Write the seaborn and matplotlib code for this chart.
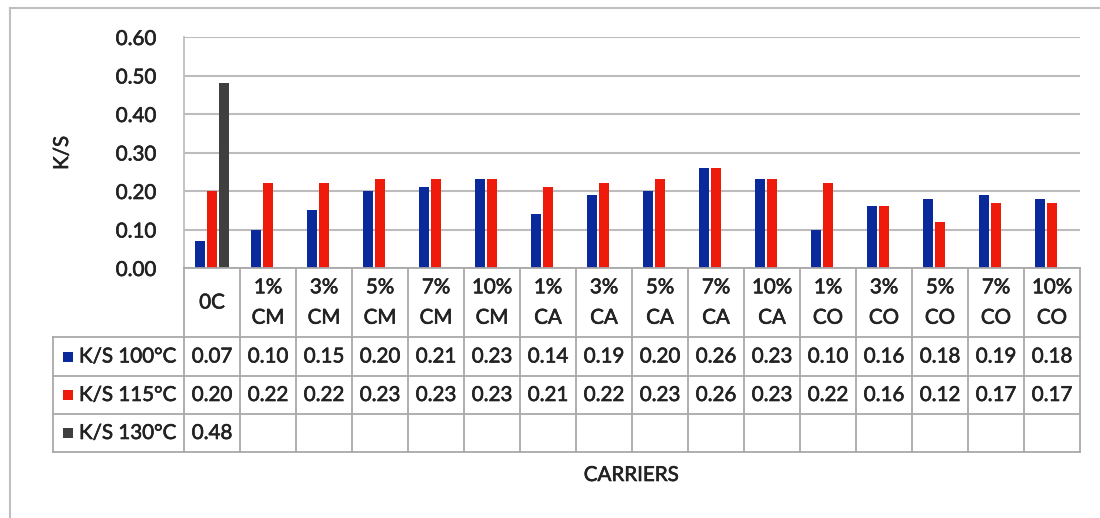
import numpy as np
import pandas as pd
import seaborn as sns
import matplotlib
matplotlib.use("Agg")
import matplotlib.pyplot as plt
import matplotlib.patheffects as pe
from matplotlib.lines import Line2D
from matplotlib.patches import Rectangle
from matplotlib.transforms import blended_transform_factory

# ---- data ----
categories = ["0C", "1%\nCM", "3%\nCM", "5%\nCM", "7%\nCM", "10%\nCM",
              "1%\nCA", "3%\nCA", "5%\nCA", "7%\nCA", "10%\nCA",
              "1%\nCO", "3%\nCO", "5%\nCO", "7%\nCO", "10%\nCO"]
series_names = ["K/S 100°C", "K/S 115°C", "K/S 130°C"]
ks_100 = [0.07, 0.10, 0.15, 0.20, 0.21, 0.23, 0.14, 0.19, 0.20, 0.26, 0.23,
          0.10, 0.16, 0.18, 0.19, 0.18]
ks_115 = [0.20, 0.22, 0.22, 0.23, 0.23, 0.23, 0.21, 0.22, 0.23, 0.26, 0.23,
          0.22, 0.16, 0.12, 0.17, 0.17]
ks_130 = [0.48] + [np.nan] * 15
yticks = [0.0, 0.1, 0.2, 0.3, 0.4, 0.5, 0.6]

colors = ["#0A2A9C", "#F01A0A", "#3F3F3F"]

df = pd.DataFrame({
    "carrier": categories * 3,
    "series": np.repeat(series_names, len(categories)),
    "value": ks_100 + ks_115 + ks_130,
})

W, H = 1100, 518
FONT = "Lato"
FS = 14.8
TXT = "#222222"
# slightly heavier glyph strokes
THICK = [pe.withStroke(linewidth=0.45, foreground=TXT)]
tkw = dict(fontsize=FS, family=FONT, color=TXT, path_effects=THICK)

fig = plt.figure(figsize=(W / 100, H / 100), dpi=100)
fig.patch.set_facecolor("white")

def fx(px):
    return px / W

def fy(py):
    return 1 - py / H

ax = fig.add_axes([fx(184), fy(268), fx(1080) - fx(184), fy(37) - fy(268)])

sns.barplot(data=df, x="carrier", y="value", hue="series", order=categories,
            hue_order=series_names, palette=colors, width=0.66, gap=0.18,
            errorbar=None, legend=False, saturation=1, ax=ax, zorder=3)

ax.set_xlim(-0.5, len(categories) - 0.5)
ax.set_ylim(0, 0.6)
ax.set_yticks(yticks)
ax.set_yticklabels([f"{v:.2f}" for v in yticks], **tkw)
ax.tick_params(axis="y", length=0, pad=20)
ax.tick_params(axis="x", length=0, labelbottom=False)
ax.set_xlabel("")
ax.set_ylabel("")
for s in ["top", "right", "bottom"]:
    ax.spines[s].set_visible(False)
ax.spines["left"].set_color("#BFBFBF")
ax.spines["left"].set_linewidth(1.3)
ax.yaxis.grid(True, color="#BCBCBC", linewidth=1.5, zorder=0)
ax.set_axisbelow(True)

# axis titles
fig.text(fx(62), fy(153), "K/S", rotation=90, ha="center", va="center", **tkw)
fig.text(fx(631), fy(475), "CARRIERS", ha="center", va="center", **tkw)

# ---- data table below the axis ----
tcol = "#A9A9A9"
lw = 1.3
trans = blended_transform_factory(ax.transData, fig.transFigure)
n = len(categories)
y_axis, y_r1, y_r2, y_r3, y_bot = 268, 337, 376, 414, 452

def hline(x0, x1, y, transform=fig.transFigure):
    fig.add_artist(Line2D([x0, x1], [fy(y), fy(y)], color=tcol, lw=lw,
                          transform=transform))

# horizontal rules
fig.add_artist(Line2D([-0.5, n - 0.5], [fy(y_axis)] * 2, color=tcol, lw=lw,
                      transform=trans))
for y in (y_r1, y_r2, y_r3, y_bot):
    hline(fx(53), fx(1080), y)

# vertical rules between categories
for i in range(n + 1):
    x = i - 0.5
    fig.add_artist(Line2D([x, x], [fy(y_axis), fy(y_bot)], color=tcol, lw=lw,
                          transform=trans))
fig.add_artist(Line2D([fx(53), fx(53)], [fy(y_r1), fy(y_bot)], color=tcol,
                      lw=lw, transform=fig.transFigure))

# category header
for i, c in enumerate(categories):
    fig.text(i, fy((y_axis + y_r1) / 2), c, transform=trans, ha="center",
             va="center", linespacing=1.65, **tkw)

# row labels with colour keys and values
rows = [ks_100, ks_115, ks_130]
centers = [(y_r1 + y_r2) / 2, (y_r2 + y_r3) / 2, (y_r3 + y_bot) / 2]
for name, col, vals, yc in zip(series_names, colors, rows, centers):
    fig.add_artist(Rectangle((fx(63), fy(yc + 5)), fx(10), fy(yc - 5) - fy(yc + 5),
                             facecolor=col, edgecolor="none",
                             transform=fig.transFigure))
    fig.text(fx(79), fy(yc), name, ha="left", va="center", **tkw)
    for i, v in enumerate(vals):
        if not np.isnan(v):
            fig.text(i, fy(yc), f"{v:.2f}", transform=trans, ha="center",
                     va="center", **tkw)

# chart-area frame
fig.add_artist(Line2D([fx(10), fx(1100)], [fy(8), fy(8)], color="#BFBFBF",
                      lw=1.5, transform=fig.transFigure))
fig.add_artist(Line2D([fx(10), fx(10)], [fy(8), fy(518)], color="#BFBFBF",
                      lw=1.5, transform=fig.transFigure))

fig.savefig("out.png", dpi=100, facecolor="white")
